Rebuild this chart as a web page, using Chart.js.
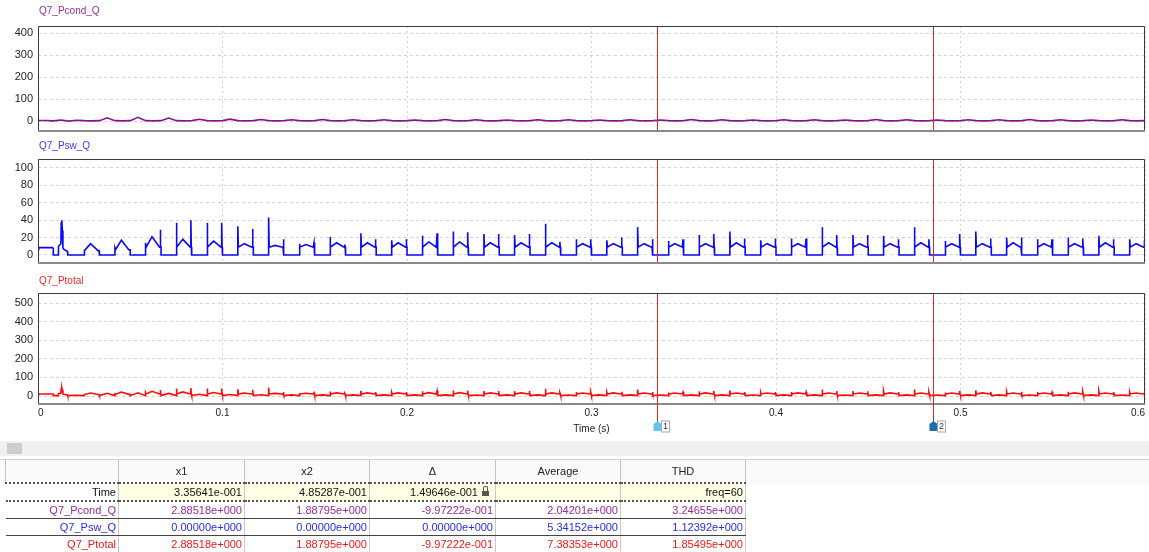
<!DOCTYPE html>
<html>
<head>
<meta charset="utf-8">
<title>Q7 losses</title>
<script src="https://cdn.jsdelivr.net/npm/chart.js@4.4.1/dist/chart.umd.min.js"></script>
<style>
  html, body { margin: 0; padding: 0; background: #fff; }
  body { position: relative; width: 1149px; height: 552px; overflow: hidden; font-family: "Liberation Sans", Arial, sans-serif; }
  canvas { position: absolute; left: 0; }
  .trace-title { position: absolute; left: 39px; font-size: 10px; line-height: 12px; }
  .hscroll { position: absolute; left: 0; top: 441px; width: 1149px; height: 15px; background: #f0f0f0; }
  .hscroll .thumb { position: absolute; left: 7px; top: 2px; width: 15px; height: 11px; background: #cdcdcd; }
  .head-band { position: absolute; left: 0; top: 459px; width: 1149px; height: 24px; border-top: 1px solid #d0d0d0; background: #fafafa; }
  table.readout { position: absolute; left: 5px; top: 460px; border-collapse: collapse; table-layout: fixed; font-size: 11px; }
  table.readout th { height: 22px; padding: 0; font-weight: normal; color: #222; background: #fafafa;
    border-left: 1px solid #c4c4c4; border-right: 1px solid #c4c4c4; border-bottom: 2px dotted #555; }
  table.readout td { height: 16px; padding: 0 2px 0 0; text-align: right; white-space: nowrap; line-height: 15px;
    border-right: 1px solid #c8c8c8; }
  table.readout tr.time td { border-bottom: 2px dotted #555; color: #111; }
  table.readout tr.time td.val { background: #fffde3; }
  table.readout tr.sig td { border-bottom: 1px solid #444; }
  .lock { display: inline-block; position: relative; width: 7px; height: 5px; margin: 0 4px 0 4px; top: 0; background: #555; }
  .lock:before { content: ""; position: absolute; left: 1px; top: -5px; width: 3px; height: 4px;
    border: 1px solid #555; border-bottom: none; border-radius: 2px 2px 0 0; }
</style>
</head>
<body>

<canvas id="chart-pcond" width="1149" height="135" style="top:12px"></canvas>
<canvas id="chart-psw" width="1149" height="134" style="top:145px"></canvas>
<canvas id="chart-ptotal" width="1149" height="156" style="top:279px"></canvas>

<div class="trace-title" style="top:5px;color:#9c2a9c">Q7_Pcond_Q</div>
<div class="trace-title" style="top:140px;color:#3a3af0">Q7_Psw_Q</div>
<div class="trace-title" style="top:275px;color:#f02a2a">Q7_Ptotal</div>

<div class="hscroll"><div class="thumb"></div></div>
<div class="head-band"></div>
<table class="readout">
  <colgroup>
    <col style="width:113px"><col style="width:126px"><col style="width:125px">
    <col style="width:126px"><col style="width:125px"><col style="width:125px">
  </colgroup>
  <thead>
    <tr><th></th><th>x1</th><th>x2</th><th>&Delta;</th><th>Average</th><th>THD</th></tr>
  </thead>
  <tbody>
    <tr class="time">
      <td>Time</td><td class="val">3.35641e-001</td><td class="val">4.85287e-001</td>
      <td class="val">1.49646e-001<span class="lock"></span></td><td class="val"></td><td class="val">freq=60</td>
    </tr>
    <tr class="sig" style="color:#9c2a9c">
      <td>Q7_Pcond_Q</td><td>2.88518e+000</td><td>1.88795e+000</td><td>-9.97222e-001</td><td>2.04201e+000</td><td>3.24655e+000</td>
    </tr>
    <tr class="sig" style="color:#2a2af0">
      <td>Q7_Psw_Q</td><td>0.00000e+000</td><td>0.00000e+000</td><td>0.00000e+000</td><td>5.34152e+000</td><td>1.12392e+000</td>
    </tr>
    <tr class="sig" style="color:#f01818">
      <td>Q7_Ptotal</td><td>2.88518e+000</td><td>1.88795e+000</td><td>-9.97222e-001</td><td>7.38353e+000</td><td>1.85495e+000</td>
    </tr>
  </tbody>
</table>

<script>
// time axis
var xTickValues = [0, 0.1, 0.2, 0.3, 0.4, 0.5, 0.6];
var xTickLabels = ["0", "0.1", "0.2", "0.3", "0.4", "0.5", "0.6"];
var cursorTimes = [0.335641, 0.485287];

// y ticks of each trace
var pcondTicks = [0, 100, 200, 300, 400];
var pswTicks = [0, 20, 40, 60, 80, 100];
var ptotalTicks = [0, 100, 200, 300, 400, 500];

// Q7_Pcond_Q, sampled every quarter of a 60 Hz period
var pcondStep = 0.0041667;
var pcondValues = [
  3, 3, 1, 5,   0, 4, 2, 1,   2, 15, 2, 1,  2, 17, 2, 1,  2, 14, 2, 1,  2, 8, 2, 1,
  2, 9, 2, 1,   2, 7, 2, 1,   2, 6, 2, 1,   2, 7, 2, 1,   2, 6, 2, 1,   2, 6, 2, 1,
  2, 5, 2, 1,   2, 7, 2, 1,   2, 6, 2, 1,   2, 5, 2, 1,   2, 6, 2, 1,   2, 6, 2, 1,
  2, 5, 2, 1,   2, 6, 2, 1,   2, 5, 2, 1,   2, 7, 2, 1,   2, 6, 2, 1,   2, 5, 2, 1,
  2, 6, 2, 1,   2, 6, 2, 1,   2, 5, 2, 1,   2, 7, 2, 1,   2, 6, 2, 1,   2, 5, 2, 1,
  2, 6, 2, 1,   2, 6, 2, 1,   2, 7, 2, 1,   2, 6, 2, 1,   2, 5, 2, 1,   2, 6, 2, 1,
  2
];

// switching windows (on / off instants of each pulse)
var humpOn = [0.0250, 0.0417, 0.0583, 0.0750, 0.0917, 0.1083, 0.1250, 0.1417, 0.1583, 0.1750,
  0.1917, 0.2083, 0.2250, 0.2417, 0.2583, 0.2750, 0.2917, 0.3083, 0.3250, 0.3417,
  0.3583, 0.3750, 0.3917, 0.4083, 0.4250, 0.4417, 0.4583, 0.4750, 0.4917, 0.5083,
  0.5250, 0.5417, 0.5583, 0.5750, 0.5917];
var humpOff = [0.0333, 0.0500, 0.0667, 0.0833, 0.1000, 0.1167, 0.1333, 0.1500, 0.1667, 0.1833,
  0.2000, 0.2167, 0.2333, 0.2500, 0.2667, 0.2833, 0.3000, 0.3167, 0.3333, 0.3500,
  0.3667, 0.3833, 0.4000, 0.4167, 0.4333, 0.4500, 0.4667, 0.4833, 0.5000, 0.5167,
  0.5333, 0.5500, 0.5667, 0.5833, 0.6000];

// Q7_Psw_Q
var pswLead = [[0, 6], [0.0004, 8.5], [0.0079, 8.5], [0.0083, 7.5], [0.0083, 0], [0.0110, 0], [0.0111, 10],
  [0.0124, 13], [0.0126, 37], [0.0129, 40], [0.0132, 28], [0.0135, 8], [0.0141, 6.5], [0.0160, 4], [0.0161, 0]];
var pswStart = [5, 8, 14, 37, 37, 33, 43, 13, 21, 25, 17, 22, 27, 24, 23, 36, 18, 17, 32, 16,
  23, 27, 17, 19, 32, 23, 22, 32, 16, 27, 20, 18, 20, 22, 18];
var pswPeak = [13, 17, 21, 18, 16, 13, 11, 12, 14, 14, 14, 15, 15, 14, 14, 14, 13, 13, 13, 13,
  13, 14, 13, 13, 14, 13, 13, 14, 13, 13, 14, 13, 13, 14, 13];
var pswEnd = [5, 6, 29, 40, 37, 30, 18, 14, 12, 18, 18, 25, 26, 24, 24, 15, 18, 20, 18, 18,
  24, 19, 19, 19, 23, 23, 18, 18, 24, 19, 20, 18, 19, 18, 17];

// Q7_Ptotal
var ptotalLead = [[0, 9], [0.0004, 11], [0.0079, 11], [0.0083, 10], [0.0083, 2], [0.0110, 2], [0.0111, 13],
  [0.0124, 16], [0.0126, 42], [0.0129, 45], [0.0132, 32], [0.0135, 11], [0.0141, 9], [0.0160, 6], [0.0161, 2],
  [0.0208, 4]];
var ptotalStart = [8, 11, 18, 40, 40, 36, 46, 16, 24, 28, 20, 25, 30, 27, 26, 39, 21, 20, 35, 19,
  26, 30, 20, 22, 35, 26, 25, 35, 19, 30, 23, 21, 23, 25, 21];
var ptotalPeak = [16, 21, 25, 22, 19, 16, 14, 15, 17, 17, 17, 18, 18, 17, 17, 17, 16, 17, 16, 16,
  17, 16, 16, 17, 16, 16, 17, 16, 16, 17, 16, 16, 17, 16, 16];
var ptotalEnd = [8, 9, 32, 43, 40, 33, 21, 17, 15, 21, 21, 28, 29, 27, 27, 18, 21, 23, 21, 21,
  27, 22, 22, 22, 26, 26, 21, 21, 27, 22, 23, 21, 22, 21, 20];
var ptotalGap = [15, 17, 14, 9, 8, 7, 6, 6, 6, 6, 6, 6, 5, 6, 6, 5, 6, 6, 5, 6,
  6, 5, 6, 6, 5, 6, 6, 5, 6, 6, 5, 6, 6, 5];

/**
 * Builds the point list of a pulsed trace from the read pulse values.
 */
function buildPulses(lead, starts, peaks, ends, shoulder, low, gaps) {
  var pts = lead.map(function (p) { return { x: p[0], y: p[1] }; });
  for (var i = 0; i < humpOn.length; i++) {
    var t0 = humpOn[i];
    var t1 = humpOff[i];
    var b = Math.min(starts[i], ends[i], shoulder);
    pts.push(
      { x: t0, y: low }, { x: t0, y: starts[i] }, { x: t0 + 0.0003, y: b },
      { x: t0 + 0.0035, y: peaks[i] }, { x: t1 - 0.0008, y: b }, { x: t1 - 0.0005, y: b },
      { x: t1 - 0.0004, y: ends[i] }, { x: t1 - 0.0002, y: b }, { x: t1, y: b }, { x: t1, y: low }
    );
    if (gaps && i < gaps.length) {
      pts.push({ x: (t1 + humpOn[i + 1]) / 2, y: gaps[i] });
    }
  }
  return pts;
}

var cursorPlugin = {
  id: "cursors",
  afterDraw: function (chart, args, opts) {
    var ctx = chart.ctx;
    var a = chart.chartArea;
    var xScale = chart.scales.x;
    ctx.save();
    // plot frame
    ctx.strokeStyle = "#3a3a3a";
    ctx.lineWidth = 1;
    ctx.beginPath();
    ctx.moveTo(a.left + 0.5, a.bottom);
    ctx.lineTo(a.left + 0.5, a.top + 0.5);
    ctx.lineTo(a.right - 0.5, a.top + 0.5);
    ctx.lineTo(a.right - 0.5, a.bottom);
    ctx.stroke();
    ctx.fillStyle = "#8a8a8a";
    ctx.fillRect(a.left, a.bottom - 1, a.right - a.left, 2);
    // cursor lines
    ctx.strokeStyle = "rgb(222, 40, 40)";
    ctx.lineWidth = 1;
    cursorTimes.forEach(function (t) {
      var px = Math.round(xScale.getPixelForValue(t)) + 0.5;
      ctx.beginPath();
      ctx.moveTo(px, a.top + 1);
      ctx.lineTo(px, opts.marker ? a.bottom + 18 : a.bottom - 1);
      ctx.stroke();
    });
    // cursor markers
    if (opts.marker) {
      var colors = ["#62c6f2", "#1f6db3"];
      cursorTimes.forEach(function (t, i) {
        var px = Math.round(xScale.getPixelForValue(t)) + 0.5;
        var y = a.bottom + 17;
        ctx.fillStyle = colors[i];
        ctx.beginPath();
        ctx.moveTo(px - 4, y + 10);
        ctx.lineTo(px - 4, y + 3);
        ctx.lineTo(px, y);
        ctx.lineTo(px + 4, y + 3);
        ctx.lineTo(px + 4, y + 10);
        ctx.closePath();
        ctx.fill();
        ctx.fillStyle = "#fff";
        ctx.strokeStyle = "#a8a8a8";
        ctx.fillRect(px + 4, y, 8, 11);
        ctx.strokeRect(px + 4, y, 8, 11);
        ctx.fillStyle = "#333";
        ctx.font = "9px 'Liberation Sans'";
        ctx.textAlign = "center";
        ctx.textBaseline = "middle";
        ctx.fillText(String(i + 1), px + 8, y + 6);
      });
    }
    ctx.restore();
  }
};

/**
 * Creates one trace panel.
 */
function createTrace(canvasId, points, color, yRange, yTicks, bottomAxis) {
  return new Chart(document.getElementById(canvasId), {
    type: "line",
    data: {
      datasets: [{
        data: points,
        borderColor: color,
        borderWidth: 1.6,
        pointRadius: 0,
        tension: 0,
        fill: false
      }]
    },
    options: {
      responsive: false,
      animation: false,
      events: [],
      layout: { padding: { top: 14, right: 4, bottom: 0, left: 0 } },
      plugins: {
        legend: { display: false },
        tooltip: { enabled: false },
        cursors: { marker: bottomAxis }
      },
      scales: {
        x: {
          type: "linear",
          min: 0,
          max: 0.6,
          afterBuildTicks: function (scale) {
            scale.ticks = xTickValues.map(function (v) { return { value: v }; });
          },
          afterFit: function (scale) { scale.height = bottomAxis ? 31 : 16; },
          ticks: {
            display: bottomAxis,
            align: "inner",
            padding: 3,
            autoSkip: false,
            maxRotation: 0,
            color: "#222",
            font: { family: "Liberation Sans", size: 10 },
            callback: function (v, i) { return xTickLabels[i]; }
          },
          grid: { color: "#d6d6c8", drawTicks: false },
          border: { display: false, dash: [2, 3] },
          title: {
            display: bottomAxis,
            text: "Time (s)",
            color: "#222",
            padding: 0,
            font: { family: "Liberation Sans", size: 10 }
          }
        },
        y: {
          min: yRange[0],
          max: yRange[1],
          afterBuildTicks: function (scale) {
            scale.ticks = yTicks.map(function (v) { return { value: v }; });
          },
          afterFit: function (scale) { scale.width = 38; },
          ticks: {
            padding: 5,
            color: "#222",
            font: { family: "Liberation Sans", size: 11 },
            callback: function (v) { return String(v); }
          },
          grid: { color: "#d4d4d4", drawTicks: false },
          border: { display: false, dash: [3, 3] }
        }
      }
    },
    plugins: [cursorPlugin]
  });
}

var pcondPoints = pcondValues.map(function (v, i) { return { x: i * pcondStep, y: v }; });
var pswPoints = buildPulses(pswLead, pswStart, pswPeak, pswEnd, 9, 0, null);
var ptotalPoints = buildPulses(ptotalLead, ptotalStart, ptotalPeak, ptotalEnd, 11, 2, ptotalGap);

createTrace("chart-pcond", pcondPoints, "#8e0f8e", [-45, 432], pcondTicks, false);
createTrace("chart-psw", pswPoints, "#0a0af0", [-9.2, 110.3], pswTicks, false);
createTrace("chart-ptotal", ptotalPoints, "#ff0a0a", [-43, 554], ptotalTicks, true);
</script>
</body>
</html>
